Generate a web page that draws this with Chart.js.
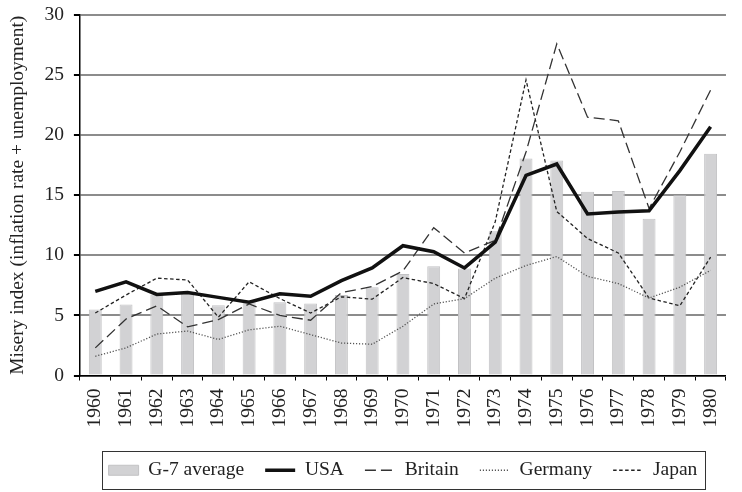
<!DOCTYPE html>
<html>
<head>
<meta charset="utf-8">
<script src="https://cdn.jsdelivr.net/npm/chart.js@4"></script>
<style>
  html, body { margin: 0; padding: 0; background: #fff; }
  #wrap { width: 742px; height: 492px; }
</style>
</head>
<body>
<div id="wrap"><canvas id="chart"></canvas></div>
<script>
const years = ["1960", "1961", "1962", "1963", "1964", "1965", "1966", "1967", "1968", "1969", "1970",
  "1971", "1972", "1973", "1974", "1975", "1976", "1977", "1978", "1979", "1980"];
const g7Average = [5.5, 5.9, 6.75, 6.8, 5.85, 6.25, 6.1, 6.0, 6.7, 7.35, 8.45, 9.1, 8.9, 12.0, 18.05, 17.9, 15.3, 15.35, 13.05, 15.0, 18.45];
const usa = [7.0, 7.8, 6.75, 6.9, 6.5, 6.1, 6.8, 6.6, 7.9, 8.95, 10.8, 10.3, 8.95, 11.1, 16.65, 17.6, 13.45, 13.6, 13.7, 17.05, 20.7];
const britain = [2.3, 4.7, 5.8, 4.05, 4.65, 5.95, 5.0, 4.6, 6.9, 7.4, 8.7, 12.3, 10.2, 11.25, 18.6, 27.6, 21.5, 21.2, 13.9, 18.6, 23.75];
const germany = [1.6, 2.3, 3.45, 3.7, 3.0, 3.8, 4.1, 3.4, 2.7, 2.6, 4.1, 5.95, 6.4, 8.1, 9.15, 9.9, 8.25, 7.65, 6.45, 7.35, 8.75];
const japan = [5.2, 6.7, 8.1, 7.95, 4.85, 7.8, 6.4, 5.2, 6.55, 6.35, 8.15, 7.65, 6.4, 12.8, 24.6, 13.65, 11.4, 10.2, 6.45, 5.8, 9.85];

const serif = "'Liberation Serif', 'Times New Roman', serif";

// frame around the legend, like the printed figure
const legendFrame = {
  id: "legendFrame",
  afterDraw(chart) {
    const boxes = chart.legend && chart.legend.legendHitBoxes;
    if (!boxes || !boxes.length) return;
    const left = Math.min(...boxes.map(b => b.left)) - 7;
    const right = Math.max(...boxes.map(b => b.left + b.width)) + 7;
    const mid = boxes[0].top + boxes[0].height / 2;
    const ctx = chart.ctx;
    ctx.save();
    ctx.strokeStyle = "#333";
    ctx.lineWidth = 1;
    ctx.strokeRect(Math.round(left) + 0.5, Math.round(mid - 19) + 0.5, Math.round(right - left), 38);
    ctx.restore();
  }
};

const line = (label, data, width, dash, color, order) => ({
  type: "line",
  label,
  data,
  borderColor: color,
  backgroundColor: color,
  borderWidth: width,
  borderDash: dash,
  pointRadius: 0,
  tension: 0,
  fill: false,
  order
});

new Chart(document.getElementById("chart"), {
  type: "bar",
  data: {
    labels: years,
    datasets: [
      {
        label: "G-7 average",
        data: g7Average,
        backgroundColor: "#d2d2d4",
        borderColor: "#c2c2c4",
        borderWidth: 1,
        categoryPercentage: 1,
        barPercentage: 0.42,
        order: 10
      },
      line("USA", usa, 3.5, [], "#111", 1),
      line("Britain", britain, 1.3, [11, 5], "#333", 2),
      line("Germany", germany, 1.3, [1.2, 1.8], "#555", 3),
      line("Japan", japan, 1.3, [3.5, 2.5], "#222", 4)
    ]
  },
  options: {
    responsive: true,
    maintainAspectRatio: false,
    animation: false,
    layout: { padding: { top: 4, right: 0, bottom: 2, left: 6 } },
    plugins: {
      tooltip: { enabled: false },
      legend: {
        position: "bottom",
        fullSize: false,
        labels: {
          usePointStyle: true,
          pointStyleWidth: 30,
          boxHeight: 10,
          padding: 21,
          color: "#222",
          font: { family: serif, size: 19.5 },
          generateLabels(chart) {
            return chart.data.datasets.map((ds, i) => ({
              text: ds.label,
              fillStyle: ds.backgroundColor,
              strokeStyle: ds.borderColor,
              lineWidth: ds.type === "line" ? ds.borderWidth : 1,
              lineDash: ds.borderDash || [],
              pointStyle: ds.type === "line" ? "line" : "rect",
              hidden: false,
              fontColor: "#222",
              datasetIndex: i
            }));
          }
        }
      }
    },
    scales: {
      x: {
        afterFit(scale) { scale.height += 4; },
        grid: {
          display: true,
          drawOnChartArea: false,
          color: "#000",
          tickLength: 5,
          offset: true
        },
        border: { color: "#000", width: 1.5 },
        ticks: {
          autoSkip: false,
          minRotation: 90,
          maxRotation: 90,
          color: "#222",
          padding: 8,
          font: { family: serif, size: 19.5 }
        }
      },
      y: {
        min: 0,
        max: 30,
        afterFit(scale) { scale.paddingTop = 15; },
        ticks: {
          stepSize: 5,
          color: "#222",
          padding: 10,
          font: { family: serif, size: 19.5 }
        },
        grid: {
          color: "#8c8c8c",
          lineWidth: 2,
          tickColor: "#000",
          tickLength: 6
        },
        border: { color: "#000", width: 1.5 },
        title: {
          display: true,
          text: "Misery index (inflation rate + unemployment)",
          color: "#222",
          padding: { top: 0, bottom: 5 },
          font: { family: serif, size: 19.5 }
        }
      }
    }
  },
  plugins: [legendFrame]
});
</script>
</body>
</html>
